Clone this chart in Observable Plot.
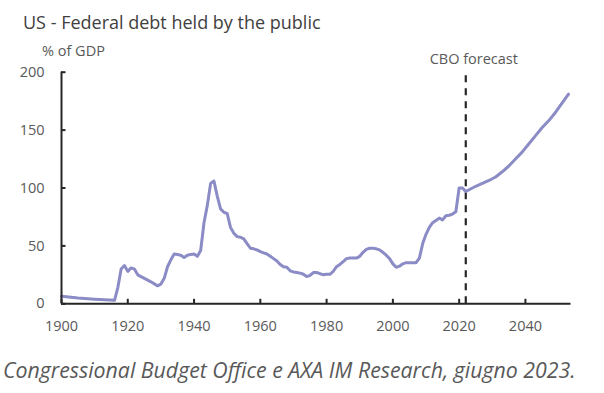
<!DOCTYPE html>
<html><head><meta charset="utf-8">
<script src="https://cdn.jsdelivr.net/npm/d3@7"></script>
<script src="https://cdn.jsdelivr.net/npm/@observablehq/plot@0.6"></script>
<style>
body{margin:0;background:#fff;width:604px;height:393px;position:relative;overflow:hidden;font-family:"Open Sans",sans-serif;}
#title{position:absolute;left:23px;top:9px;line-height:26px;font-size:18px;color:#404040;white-space:nowrap;z-index:2;}
#unit{position:absolute;left:42px;top:41px;line-height:20px;font-size:14.5px;color:#595959;white-space:nowrap;z-index:2;}
#chart{position:absolute;left:0;top:36px;z-index:1;}
#caption{position:absolute;left:3px;top:355px;line-height:30px;font-size:21.3px;font-style:italic;color:#595959;white-space:nowrap;z-index:2;}
</style>
</head><body>
<div id="title">US - Federal debt held by the public</div>
<div id="unit">% of GDP</div>
<div id="chart"></div>
<div id="caption">Congressional Budget Office e AXA IM Research, giugno 2023.</div>
<script>
const years = [1900,1905,1910,1916,1917,1918,1919,1920,1921,1922,1923,1925,1927,1929,1930,1931,1932,1933,1934,1935,1936,1937,1938,1939,1940,1941,1942,1943,1944,1945,1946,1947,1948,1949,1950,1951,1952,1953,1954,1955,1956,1957,1958,1959,1960,1961,1962,1963,1964,1965,1966,1967,1968,1969,1970,1971,1972,1973,1974,1975,1976,1977,1978,1979,1980,1981,1982,1983,1984,1985,1986,1987,1988,1989,1990,1991,1992,1993,1994,1995,1996,1997,1998,1999,2000,2001,2002,2003,2004,2005,2006,2007,2008,2009,2010,2011,2012,2013,2014,2015,2016,2017,2018,2019,2020,2021,2022,2023,2025,2027,2029,2031,2033,2035,2037,2039,2041,2043,2045,2047,2049,2051,2053];
const debt = [6.5,5,4,3,14,30,33,28,31,30,25,22,19,15.5,17,22,32,38,43,42.5,42,40,42,42.5,43,41,46,70,85,104,106,93,82,79,78,66,61,58,57.5,56,52,48,47.5,46.5,45,44,43,41,39,37,34,32,31.5,28.5,27.5,27,26.5,25.5,23.5,24.5,27,27,26,25,25.5,25.5,28,32,34,36.5,39,39.5,39.5,39.5,41,44.5,47,48,48,47.5,46.5,44.5,42,39,34.5,31.5,32.5,34.5,35.5,35.5,35.5,35.5,39.5,52,60,66,70,72,74,72.5,76,76.5,77.5,79.5,100,100,97,98.5,101.5,104,106.5,109.5,114,119,125,131,138,145,152,158,165,173,181];
const xTicks = [1900,1920,1940,1960,1980,2000,2020,2040];
const yTicks = [0,50,100,150,200];
const forecastYear = 2022;
const forecastTop = 198;
const forecastLabel = "CBO forecast";

const data = years.map((y,i)=>({year:y, debt:debt[i]}));
const W=604, H=310, mt=35.7, mb=42.7, ml=61, mr=36;
const fh = H-mt-mb, fw = W-ml-mr;
const axisColor = "#262626";
const plot = Plot.plot({
  width:W, height:H, marginTop:mt, marginBottom:mb, marginLeft:ml, marginRight:mr,
  style:{fontFamily:'"Open Sans",sans-serif', fontSize:"14.5px", color:"#595959", background:"transparent", overflow:"visible"},
  x:{domain:[1900,2053]},
  y:{domain:[0,200]},
  marks:[
    Plot.axisX(xTicks,{tickSize:0, tickPadding:17, tickFormat:d=>String(d), label:null}),
    Plot.axisY(yTicks,{tickSize:0, tickPadding:17, tickFormat:d=>String(d), label:null}),
    Plot.tickX(xTicks,{x:d=>d, insetTop:fh-4.5, stroke:axisColor, strokeWidth:2}),
    Plot.tickY(yTicks,{y:d=>d, insetRight:fw-4.5, stroke:axisColor, strokeWidth:2}),
    Plot.ruleX([forecastYear],{x:d=>d, y1:0, y2:forecastTop, stroke:axisColor, strokeWidth:2.2, strokeDasharray:"7,6"}),
    Plot.line(data,{x:"year", y:"debt", stroke:"#8b8bc6", strokeWidth:3, strokeLinejoin:"round"}),
    Plot.ruleY([0],{y:d=>d, stroke:axisColor, strokeWidth:2, insetRight:-2.5}),
    Plot.ruleX([1900],{x:d=>d, y1:0, y2:200, stroke:axisColor, strokeWidth:2}),
    Plot.text([forecastLabel],{x:()=>forecastYear, frameAnchor:"top", dy:-18.7, dx:8, fill:"#595959"})
  ]
});
document.getElementById("chart").appendChild(plot);
</script>
</body></html>
